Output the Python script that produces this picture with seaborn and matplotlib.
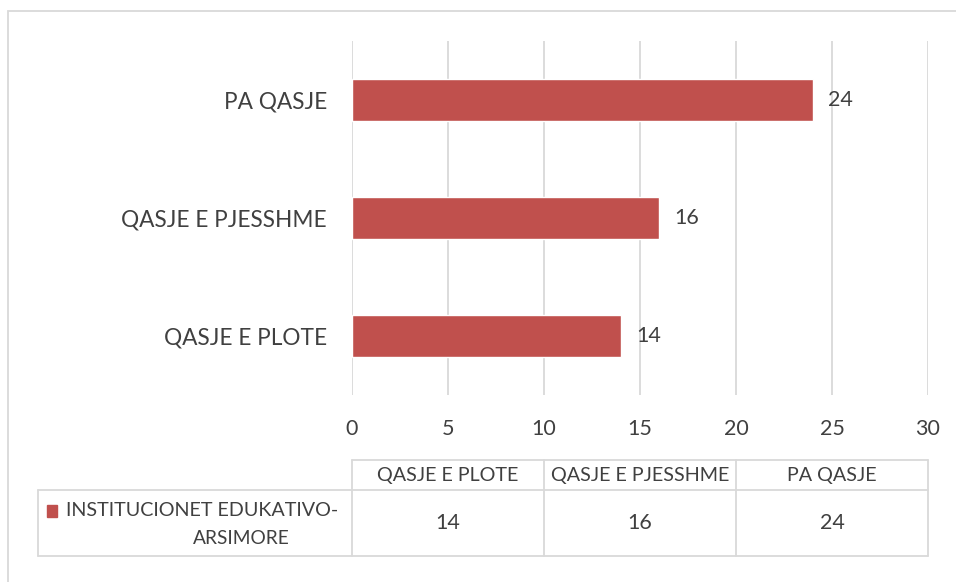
import matplotlib
matplotlib.use("Agg")
import matplotlib.pyplot as plt
import seaborn as sns
import pandas as pd
from matplotlib.lines import Line2D
from matplotlib.patches import Rectangle

categories = ["PA QASJE", "QASJE E PJESSHME", "QASJE E PLOTE"]
values = [24, 16, 14]
table_order = ["QASJE E PLOTE", "QASJE E PJESSHME", "PA QASJE"]
series_line1 = "INSTITUCIONET EDUKATIVO-"
series_line2 = "ARSIMORE"
xticks = [0, 5, 10, 15, 20, 25, 30]

sns.set_theme(style="white")
plt.rcParams['font.family'] = ['Lato', 'DejaVu Sans']

W, H = 956, 582
fig = plt.figure(figsize=(W / 100, H / 100), dpi=100)
TXT = "#404040"
BAR = "#C0504D"
GRID = "#D9D9D9"

def fx(x):
    return x / W

def fy(y):
    return 1 - y / H

ax = fig.add_axes([fx(352), fy(395), fx(928) - fx(352), fy(41) - fy(395)])
df = pd.DataFrame({"cat": categories, "val": values})
sns.barplot(data=df, x="val", y="cat", orient="h", color=BAR, saturation=1,
            width=0.35, ax=ax, order=categories)
ax.set_xlim(0, 30)
ax.set_xticks(xticks)
ax.grid(axis="x", color=GRID, linewidth=1.3)
ax.set_axisbelow(True)
for s in ax.spines.values():
    s.set_visible(False)
ax.set_xlabel("")
ax.set_ylabel("")
ax.tick_params(axis="x", colors=TXT, labelsize=15.5, pad=17, length=0)
ax.tick_params(axis="y", colors=TXT, labelsize=16.3, pad=18, length=0)
for c in ax.containers:
    labels = ax.bar_label(c, padding=11, color=TXT, fontsize=15.5)
    for t in labels:
        t.set_va("top")
        t.set_y(t.get_position()[1])
        t.set_verticalalignment("center")
        t.set_position((t.get_position()[0], t.get_position()[1]))
        t.set_transform(t.get_transform() + matplotlib.transforms.ScaledTranslation(0, -3 / 100, fig.dpi_scale_trans))

# outer frame
fig.add_artist(Rectangle((fx(8), fy(600)), fx(990) - fx(8), fy(11) - fy(600),
                         transform=fig.transFigure, fill=False,
                         edgecolor="#D9D9D9", linewidth=1.3))

# data table
col_x = [352, 544, 736, 928]
top, mid, bot = 460, 490, 556
left = 38
lc = "#D9D9D9"
lines = [
    ((352, 928), (top, top)),
    ((left, 928), (mid, mid)),
    ((left, 928), (bot, bot)),
    ((left, left), (mid, bot)),
]
for xv in col_x:
    lines.append(((xv, xv), (top, bot)))
for xs, ys in lines:
    fig.add_artist(Line2D([fx(xs[0]), fx(xs[1])], [fy(ys[0]), fy(ys[1])],
                          transform=fig.transFigure, color=lc, linewidth=1.3))

for i, cat in enumerate(table_order):
    cx = (col_x[i] + col_x[i + 1]) / 2
    fig.text(fx(cx), fy((top + mid) / 2), cat, ha="center", va="center",
             fontsize=14.2, color=TXT)
    v = values[categories.index(cat)]
    fig.text(fx(cx), fy((mid + bot) / 2), str(v), ha="center", va="center",
             fontsize=15.5, color=TXT)

fig.add_artist(Rectangle((fx(47), fy(517)), fx(57) - fx(47), fy(505) - fy(517),
                         transform=fig.transFigure, color=BAR))
fig.text(fx(66), fy(510), series_line1, ha="left", va="center",
         fontsize=14.2, color=TXT)
fig.text(fx(241), fy(538), series_line2, ha="center", va="center",
         fontsize=13.8, color=TXT)

fig.savefig("out.png", dpi=100)
